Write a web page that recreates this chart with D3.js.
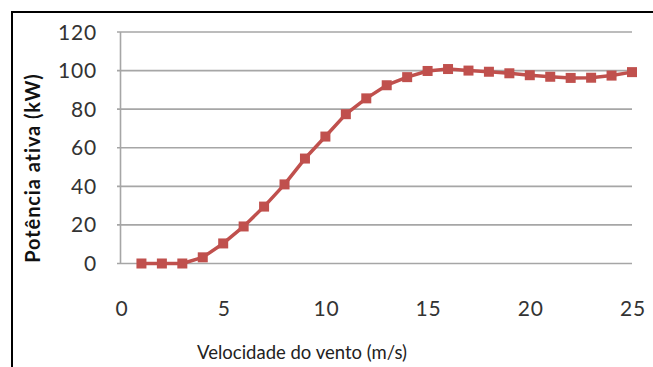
<!DOCTYPE html>
<html><head><meta charset="utf-8">
<script src="https://cdn.jsdelivr.net/npm/d3@7"></script>
<style>body{margin:0;background:#fff}svg{display:block}</style>
</head><body>
<script>
const windSpeed = [1,2,3,4,5,6,7,8,9,10,11,12,13,14,15,16,17,18,19,20,21,22,23,24,25];
const power = [0,0,0,3.2,10.4,19.2,29.5,41,54.4,65.8,77.4,85.6,92.4,96.6,99.8,100.8,100,99.4,98.6,97.6,96.8,96.2,96.3,97.4,99.2];
const xTicks = [0,5,10,15,20,25];
const yTicks = [0,20,40,60,80,100,120];
const xTitle = "Velocidade do vento (m/s)";
const yTitle = "Potência ativa (kW)";

const W = 653, H = 367;
const svg = d3.select("body").append("svg").attr("width", W).attr("height", H);
const font = "Lato, 'Open Sans', sans-serif";

svg.append("rect").attr("x",12).attr("y",12).attr("width",700).attr("height",400)
  .attr("fill","none").attr("stroke","#000").attr("stroke-width",2);

const x = d3.scaleLinear().domain([0,25]).range([121,632]);
const y = d3.scaleLinear().domain([0,120]).range([263.5,32]);

// gridlines
svg.append("g").selectAll("line").data(yTicks).join("line")
  .attr("x1",117).attr("x2",632).attr("y1",d=>y(d)).attr("y2",d=>y(d))
  .attr("stroke","#a6a6a6").attr("stroke-width",1.6);
// y axis line
svg.append("line").attr("x1",120.5).attr("x2",120.5).attr("y1",y(120)).attr("y2",y(0))
  .attr("stroke","#a6a6a6").attr("stroke-width",1.6);

// y tick labels
svg.append("g").selectAll("text").data(yTicks).join("text")
  .attr("x",97).attr("y",d=>y(d)).attr("dy","0.36em").attr("text-anchor","end")
  .attr("font-family",font).attr("font-size",21).attr("letter-spacing",0.8).attr("fill","#333")
  .text(d=>d);
// x tick labels
svg.append("g").selectAll("text").data(xTicks).join("text")
  .attr("x",d=>x(d)+1).attr("y",308).attr("dy","0.36em").attr("text-anchor","middle")
  .attr("font-family",font).attr("font-size",21).attr("letter-spacing",0.8).attr("fill","#333")
  .text(d=>d);

// titles
svg.append("text").attr("x",302).attr("y",352).attr("dy","0.36em").attr("text-anchor","middle")
  .attr("font-family",font).attr("font-size",18.5).attr("fill","#222").text(xTitle);
svg.append("text").attr("transform","translate(33,168) rotate(-90)").attr("dy","0.36em")
  .attr("text-anchor","middle").attr("font-family",font).attr("font-size",20)
  .attr("letter-spacing",0.9).attr("font-weight","bold").attr("fill","#111").text(yTitle);

// line
const data = windSpeed.map((v,i)=>({x:v,y:power[i]}));
svg.append("path").datum(data)
  .attr("d", d3.line().x(d=>x(d.x)).y(d=>y(d.y)))
  .attr("fill","none").attr("stroke","#C0504D").attr("stroke-width",3.5).attr("stroke-linejoin","round");
svg.append("g").selectAll("rect").data(data).join("rect")
  .attr("x",d=>x(d.x)-5).attr("y",d=>y(d.y)-5).attr("width",10).attr("height",10)
  .attr("fill","#C0504D");
</script>
</body></html>
